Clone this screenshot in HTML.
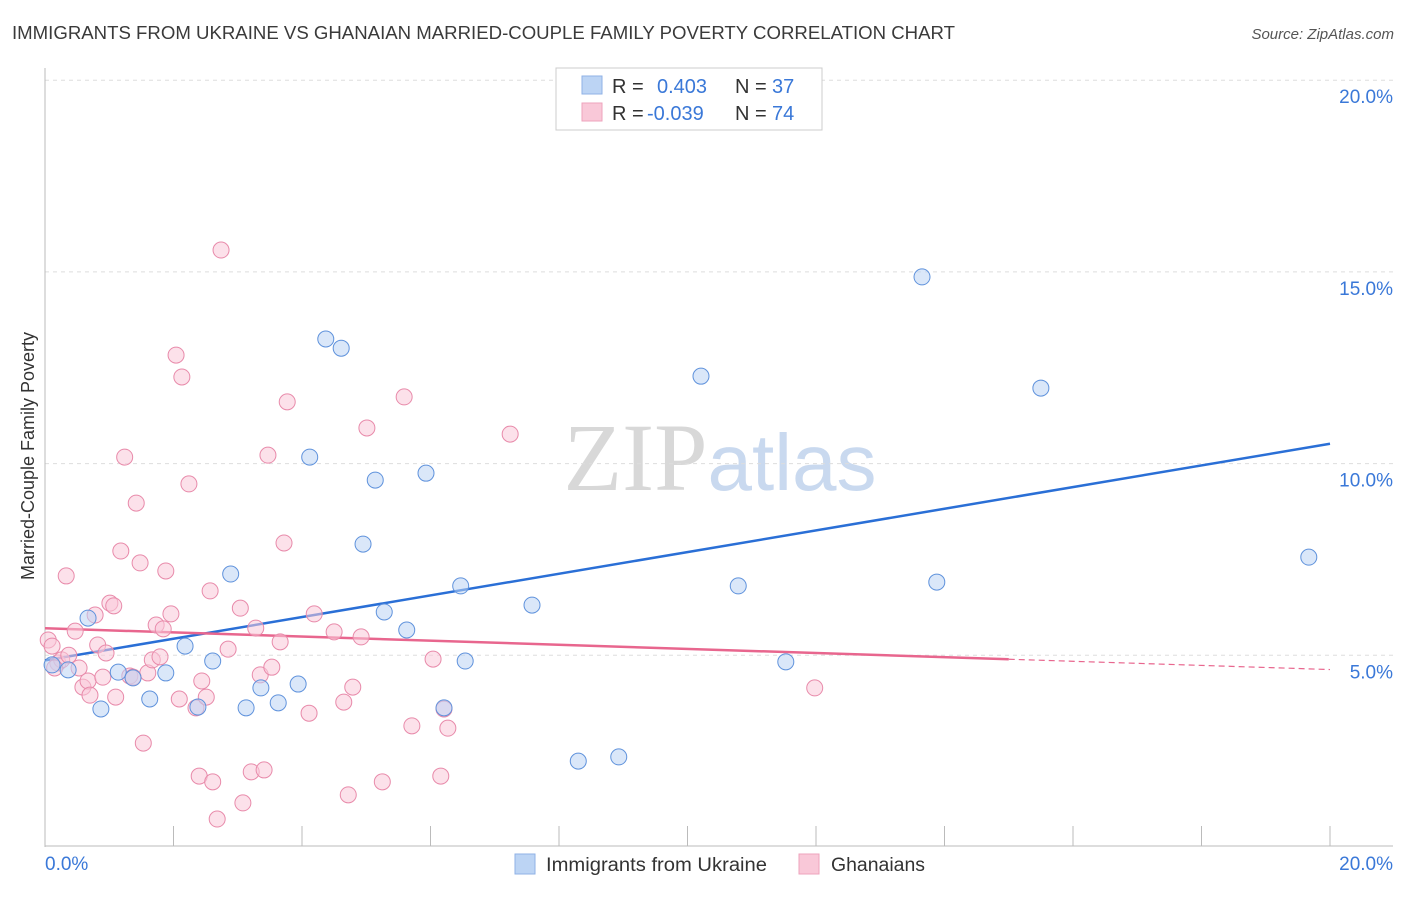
<!DOCTYPE html>
<html><head><meta charset="utf-8">
<style>
body{margin:0;background:#fff;font-family:"Liberation Sans",sans-serif;}
svg text{font-family:"Liberation Sans",sans-serif;}
</style></head>
<body>
<svg id="chart" width="1406" height="892" xmlns="http://www.w3.org/2000/svg">
<text x="12" y="39" font-size="18" fill="#3a3a3a" textLength="943" lengthAdjust="spacingAndGlyphs">IMMIGRANTS FROM UKRAINE VS GHANAIAN MARRIED-COUPLE FAMILY POVERTY CORRELATION CHART</text>
<text x="1394" y="39" font-size="15" fill="#555" text-anchor="end" font-style="italic">Source: ZipAtlas.com</text>
<text x="720" y="490" font-size="96" text-anchor="middle"><tspan fill="#d8d8d8" font-family="Liberation Serif">ZIP</tspan><tspan fill="#c9d9ef" font-size="80">atlas</tspan></text>
<text transform="translate(34,456) rotate(-90)" font-size="18" fill="#333" text-anchor="middle">Married-Couple Family Poverty</text>
<g id="grid"></g><g id="axes"></g><g id="trend"></g><g id="pts"></g>
<g>
<rect x="556" y="68" width="266" height="62" fill="#fff" stroke="#ccc"/>
<rect x="582" y="76" width="20" height="18" fill="#bcd4f4" stroke="#8fb2e6"/>
<text x="612" y="93" font-size="20" fill="#333">R = </text><text x="657" y="93" font-size="20" fill="#3a78d8">0.403</text>
<text x="735" y="93" font-size="20" fill="#333">N = </text><text x="772" y="93" font-size="20" fill="#3a78d8">37</text>
<rect x="582" y="103" width="20" height="18" fill="#f9c8d8" stroke="#eea3bc"/>
<text x="612" y="120" font-size="20" fill="#333">R = </text><text x="647" y="120" font-size="20" fill="#3a78d8">-0.039</text>
<text x="735" y="120" font-size="20" fill="#333">N = </text><text x="772" y="120" font-size="20" fill="#3a78d8">74</text>
</g>
<g>
<rect x="515" y="854" width="20" height="20" fill="#bcd4f4" stroke="#8fb2e6"/>
<text x="546" y="871" font-size="19" fill="#333" textLength="221" lengthAdjust="spacingAndGlyphs">Immigrants from Ukraine</text>
<rect x="799" y="854" width="20" height="20" fill="#f9c8d8" stroke="#eea3bc"/>
<text x="831" y="871" font-size="19" fill="#333" textLength="94" lengthAdjust="spacingAndGlyphs">Ghanaians</text>
</g>
</svg>
<script>
const ukraineX=[0.11,0.36,0.67,0.87,1.14,1.37,1.63,1.88,2.18,2.38,2.61,2.89,3.13,3.36,3.63,3.94,4.12,4.37,4.61,4.95,5.14,5.28,5.63,5.93,6.21,6.47,6.54,7.58,8.30,8.93,10.21,10.79,11.53,13.65,13.88,15.50,19.67];
const ukraineY=[4.75,4.62,5.97,3.60,4.56,4.41,3.86,4.54,5.24,3.65,4.85,7.12,3.63,4.15,3.76,4.25,10.17,13.25,13.01,7.90,9.57,6.13,5.66,9.75,3.63,6.81,4.85,6.31,2.24,2.35,12.28,6.81,4.83,14.87,6.91,11.97,7.56];
const ghanaX=[0.05,0.11,0.2,0.26,0.33,0.37,0.47,0.53,0.59,0.67,0.7,0.78,0.82,0.9,0.95,1.01,1.07,1.1,1.18,1.24,1.32,1.42,1.48,1.53,1.6,1.67,1.73,1.79,1.84,1.88,1.96,2.04,2.09,2.13,2.24,2.35,2.4,2.44,2.51,2.57,2.61,2.68,2.74,2.85,3.04,3.08,3.21,3.28,3.35,3.41,3.47,3.53,3.66,3.72,3.77,4.11,4.19,4.5,4.65,4.72,4.79,4.92,5.01,5.25,5.59,5.71,6.04,6.16,6.21,6.27,7.24,11.98,0.15,1.37];
const ghanaY=[5.40,5.24,4.8,4.88,7.07,5.0,5.63,4.67,4.17,4.33,3.96,6.05,5.27,4.43,5.06,6.36,6.29,3.91,7.72,10.17,4.46,8.97,7.41,2.71,4.54,4.88,5.79,4.96,5.69,7.2,6.08,12.83,3.86,12.26,9.47,3.63,1.85,4.33,3.91,6.68,1.7,0.73,15.57,5.16,6.23,1.15,1.96,5.71,4.49,2.01,10.22,4.69,5.35,7.93,11.61,3.49,6.08,5.61,3.78,1.36,4.17,5.48,10.93,1.7,11.74,3.16,4.9,1.85,3.6,3.1,10.77,4.15,4.67,4.43];
const yTicks=[5,10,15,20];
const xTickLabels=["0.0%","20.0%"];
const NS="http://www.w3.org/2000/svg";
const X0=45,X1=1330,Y0=847,YPX=191.7/5;
const sx=v=>X0+(X1-X0)*v/20, sy=v=>Y0-v*YPX;
function mk(tag,attrs,parent){const e=document.createElementNS(NS,tag);for(const k in attrs)e.setAttribute(k,attrs[k]);document.getElementById(parent).appendChild(e);return e;}
yTicks.forEach(t=>{
 const l=mk('line',{x1:45,x2:1393,y1:sy(t),y2:sy(t),stroke:'#ddd','stroke-dasharray':'4,4'},'grid');
 
 
 const tx=mk('text',{x:1393,y:sy(t)+23,'font-size':19,fill:'#3a78d8','text-anchor':'end'},'axes');
 tx.textContent=t.toFixed(1)+'%';
 
 
});
mk('line',{x1:45,x2:45,y1:68,y2:847,stroke:'#bbb'},'axes');
mk('line',{x1:45,x2:1393,y1:846,y2:846,stroke:'#bbb'},'axes');
for(let i=0;i<=10;i++){const t=mk('line',{x1:sx(i*2),x2:sx(i*2),y1:826,y2:846,stroke:'#bbb'},'axes');
 
 }
const xl0=mk('text',{x:45,y:870,'font-size':19,fill:'#3a78d8'},'axes');xl0.textContent=xTickLabels[0];


const xl1=mk('text',{x:1393,y:870,'font-size':19,fill:'#3a78d8','text-anchor':'end'},'axes');xl1.textContent=xTickLabels[1];


function reg(xs,ys){const n=xs.length;let mx=0,my=0;for(let i=0;i<n;i++){mx+=xs[i];my+=ys[i];}mx/=n;my/=n;let a=0,b=0;for(let i=0;i<n;i++){a+=(xs[i]-mx)*(ys[i]-my);b+=(xs[i]-mx)**2;}const s=a/b;return [my-s*mx,s];}
function pts(xs,ys,fill,stroke,name){xs.forEach((x,i)=>{const c=mk('circle',{cx:sx(x),cy:sy(ys[i]),r:8,fill:fill,'fill-opacity':0.55,stroke:stroke,'stroke-width':1},'pts');
 
 });}
pts(ghanaX,ghanaY,'#f9c8d8','#e88aaa','ghanaian-point');
pts(ukraineX,ukraineY,'#bcd4f4','#5f92dc','ukraine-point');
const [bu,su]=reg(ukraineX,ukraineY);
const lb=mk('line',{x1:sx(0),y1:sy(bu),x2:sx(20),y2:sy(bu+su*20),stroke:'#2a6fd6','stroke-width':2.5},'trend');


const [bg,sg]=reg(ghanaX,ghanaY);
const lp=mk('line',{x1:sx(0),y1:sy(bg),x2:sx(15),y2:sy(bg+sg*15),stroke:'#e8668e','stroke-width':2.5},'trend');


const lpd=mk('line',{x1:sx(15),y1:sy(bg+sg*15),x2:sx(20),y2:sy(bg+sg*20),stroke:'#e8668e','stroke-width':1.2,'stroke-dasharray':'6,4'},'trend');


</script>
</body></html>
